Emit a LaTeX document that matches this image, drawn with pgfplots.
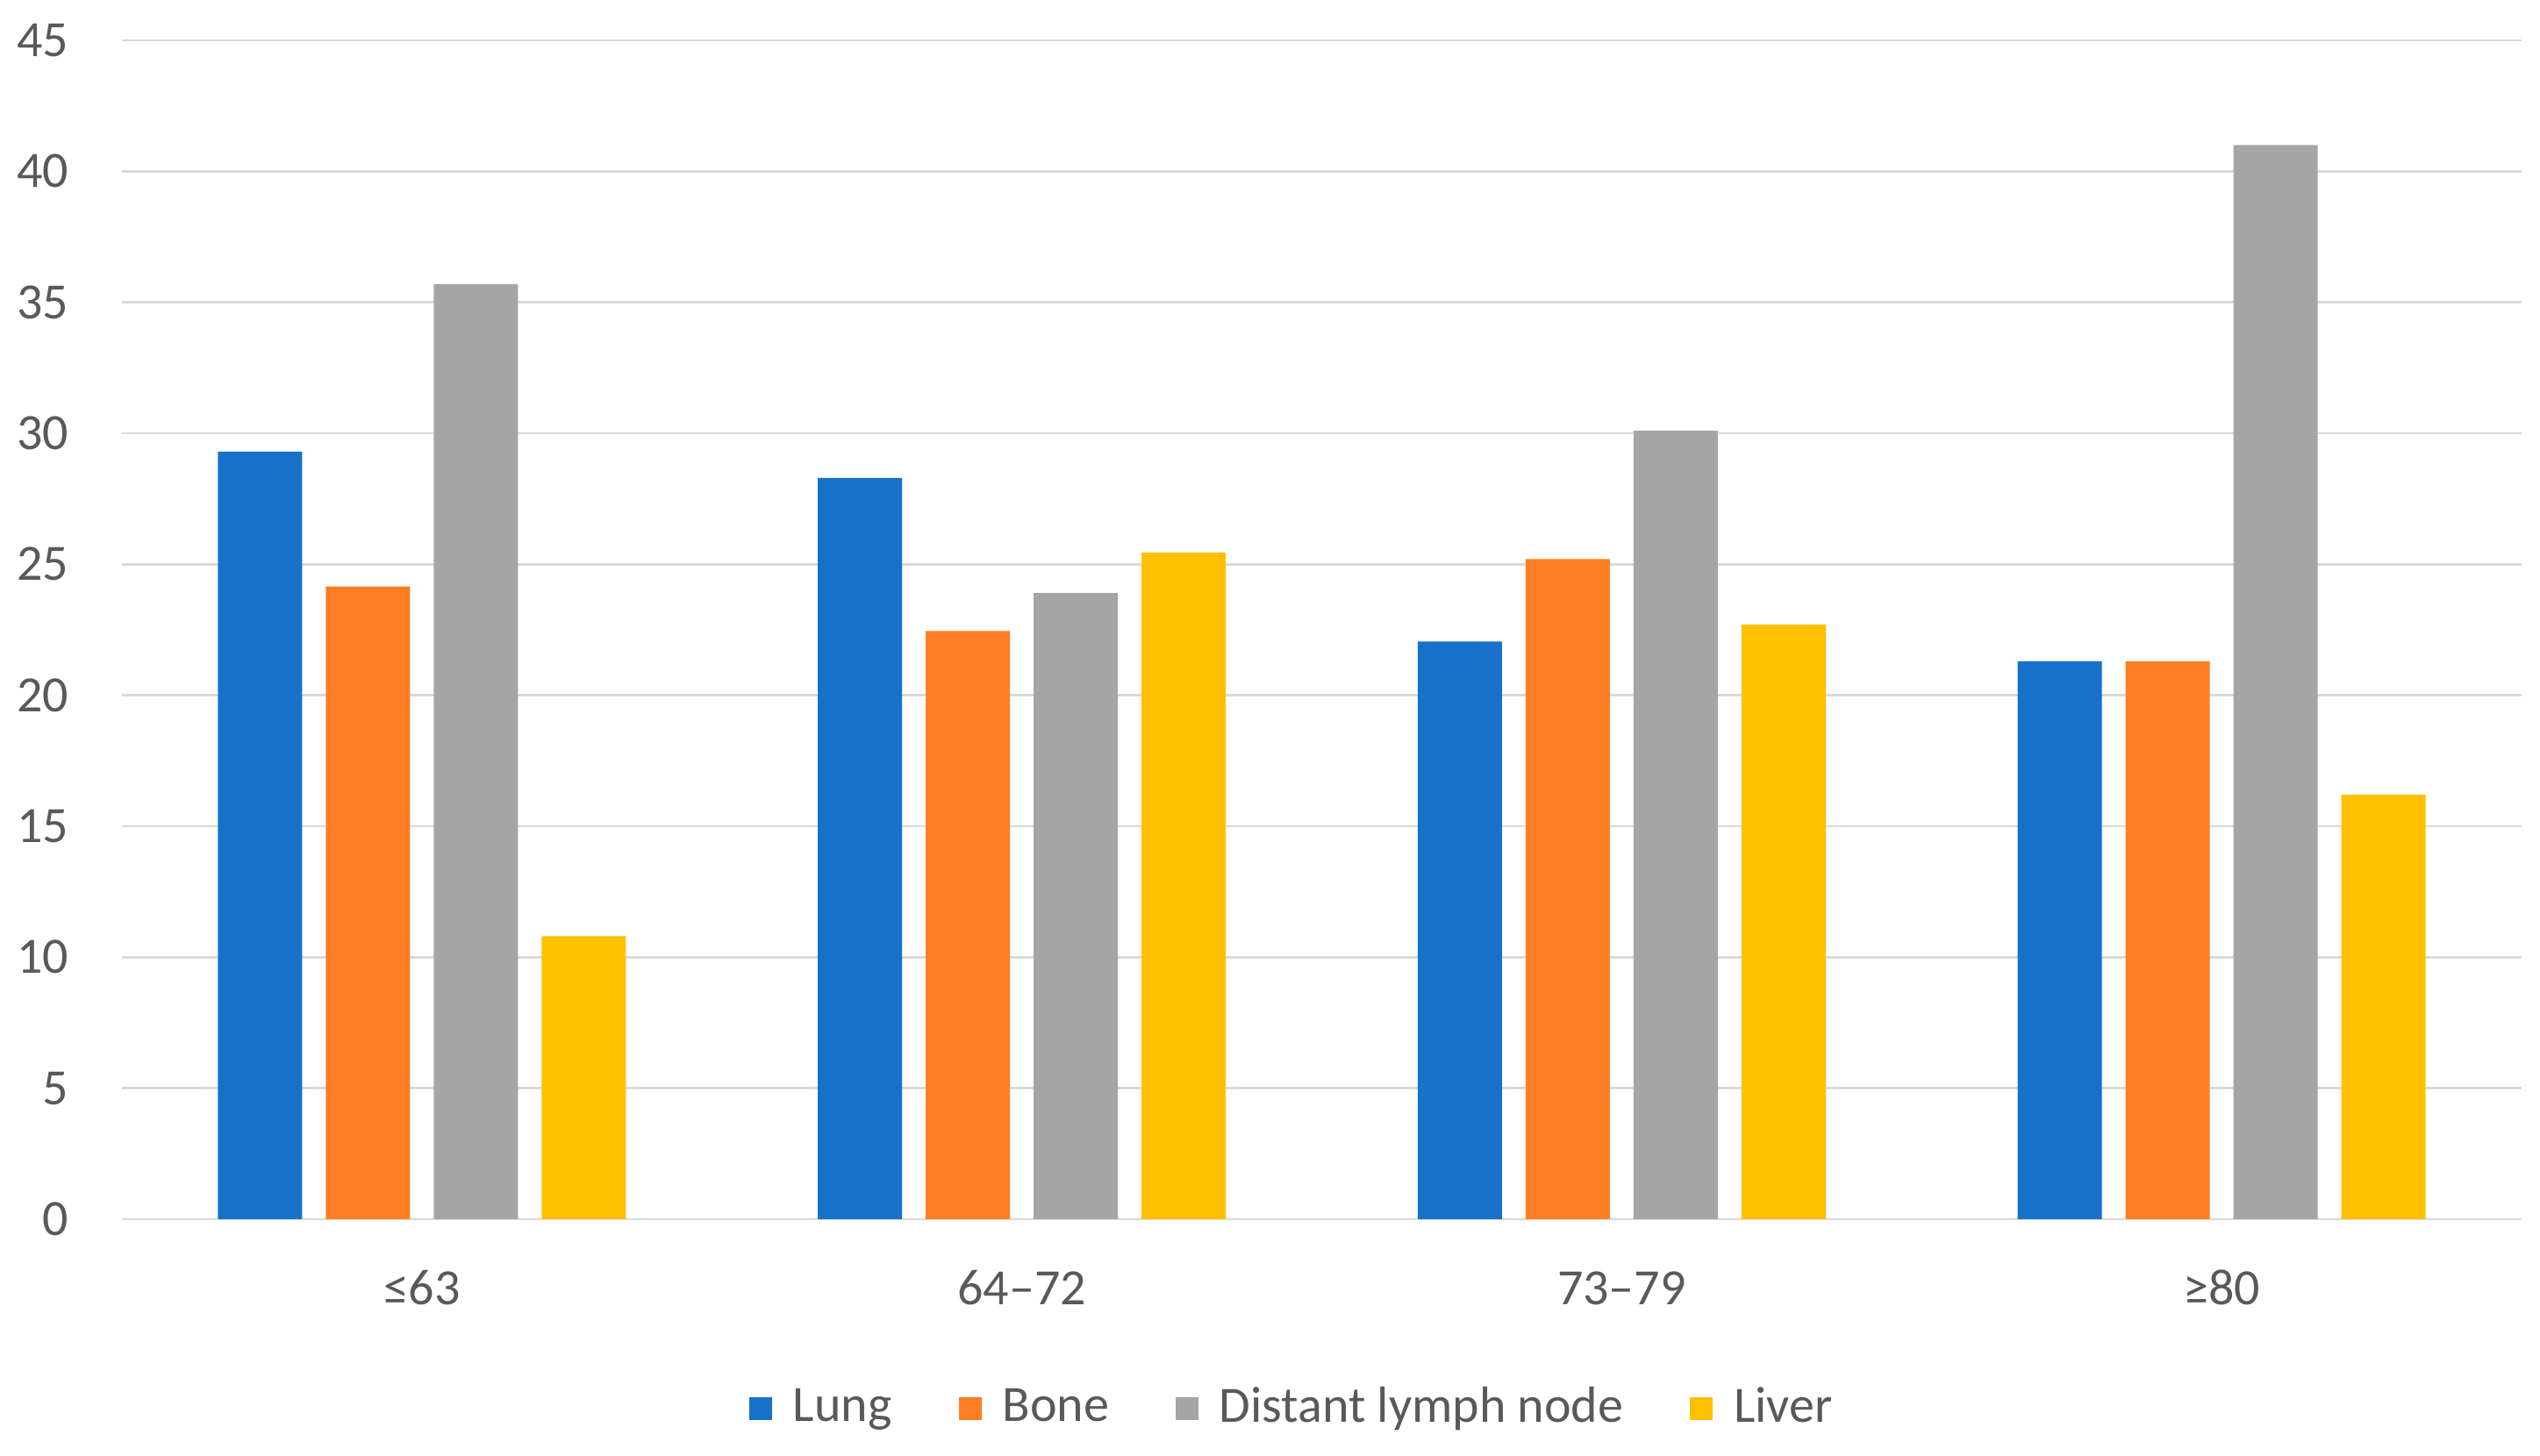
\documentclass[border=0pt]{standalone}
\usepackage{pgfplots}
\pgfplotsset{compat=1.18}
\usepackage{fontspec}
\setmainfont{Carlito}
\definecolor{lungc}{HTML}{1771C8}
\definecolor{bonec}{HTML}{FE7E23}
\definecolor{nodec}{HTML}{A5A5A5}
\definecolor{liverc}{HTML}{FFC000}
\definecolor{gridc}{HTML}{D9D9D9}
\definecolor{textc}{HTML}{595959}
\begin{document}
\fontsize{14.5}{17}\selectfont
\begin{tikzpicture}
  \useasboundingbox (-34.75pt,-67.5pt) rectangle (689pt,347.5pt);
  \begin{axis}[
    scale only axis,
    width=683.75pt, height=336pt,
    xmin=-0.5, xmax=3.5,
    ymin=0, ymax=45,
    ytick={0,5,...,45},
    xtick=data,
    xticklabels={≤63,64–72,73–79,≥80},
    major tick length=0pt,
    axis line style={draw=none},
    ymajorgrids,
    grid style={gridc, line width=0.7pt},
    ybar=6.75pt,
    bar width=24pt,
    /pgf/number format/assume math mode=true,
    ticklabel style={font=\fontsize{14.5}{17}\selectfont, text=textc},
    yticklabel style={inner sep=0pt, xshift=-15pt},
    xticklabel style={inner sep=0pt, anchor=base, yshift=-24.5pt},
    legend columns=4,
    legend style={draw=none, at={(0.4886,-0.1607)}, anchor=center,
      font=\fontsize{14.5}{17}\selectfont, text=textc,
      /tikz/every odd column/.append style={column sep=4pt},
      /tikz/every even column/.append style={column sep=17pt}},
    legend cell align=left,
    legend image code/.code={\fill[#1] (0pt,-3.25pt) rectangle (6.5pt,3.25pt);},
  ]
    \addplot[draw=none, fill=lungc] coordinates {(0,29.3) (1,28.3) (2,22.05) (3,21.3)};
    \addlegendentry{Lung}
    \addplot[draw=none, fill=bonec] coordinates {(0,24.15) (1,22.45) (2,25.2) (3,21.3)};
    \addlegendentry{Bone}
    \addplot[draw=none, fill=nodec] coordinates {(0,35.7) (1,23.9) (2,30.1) (3,41.0)};
    \addlegendentry{Distant lymph node}
    \addplot[draw=none, fill=liverc] coordinates {(0,10.8) (1,25.45) (2,22.7) (3,16.2)};
    \addlegendentry{Liver}
  \end{axis}
\end{tikzpicture}
\end{document}
